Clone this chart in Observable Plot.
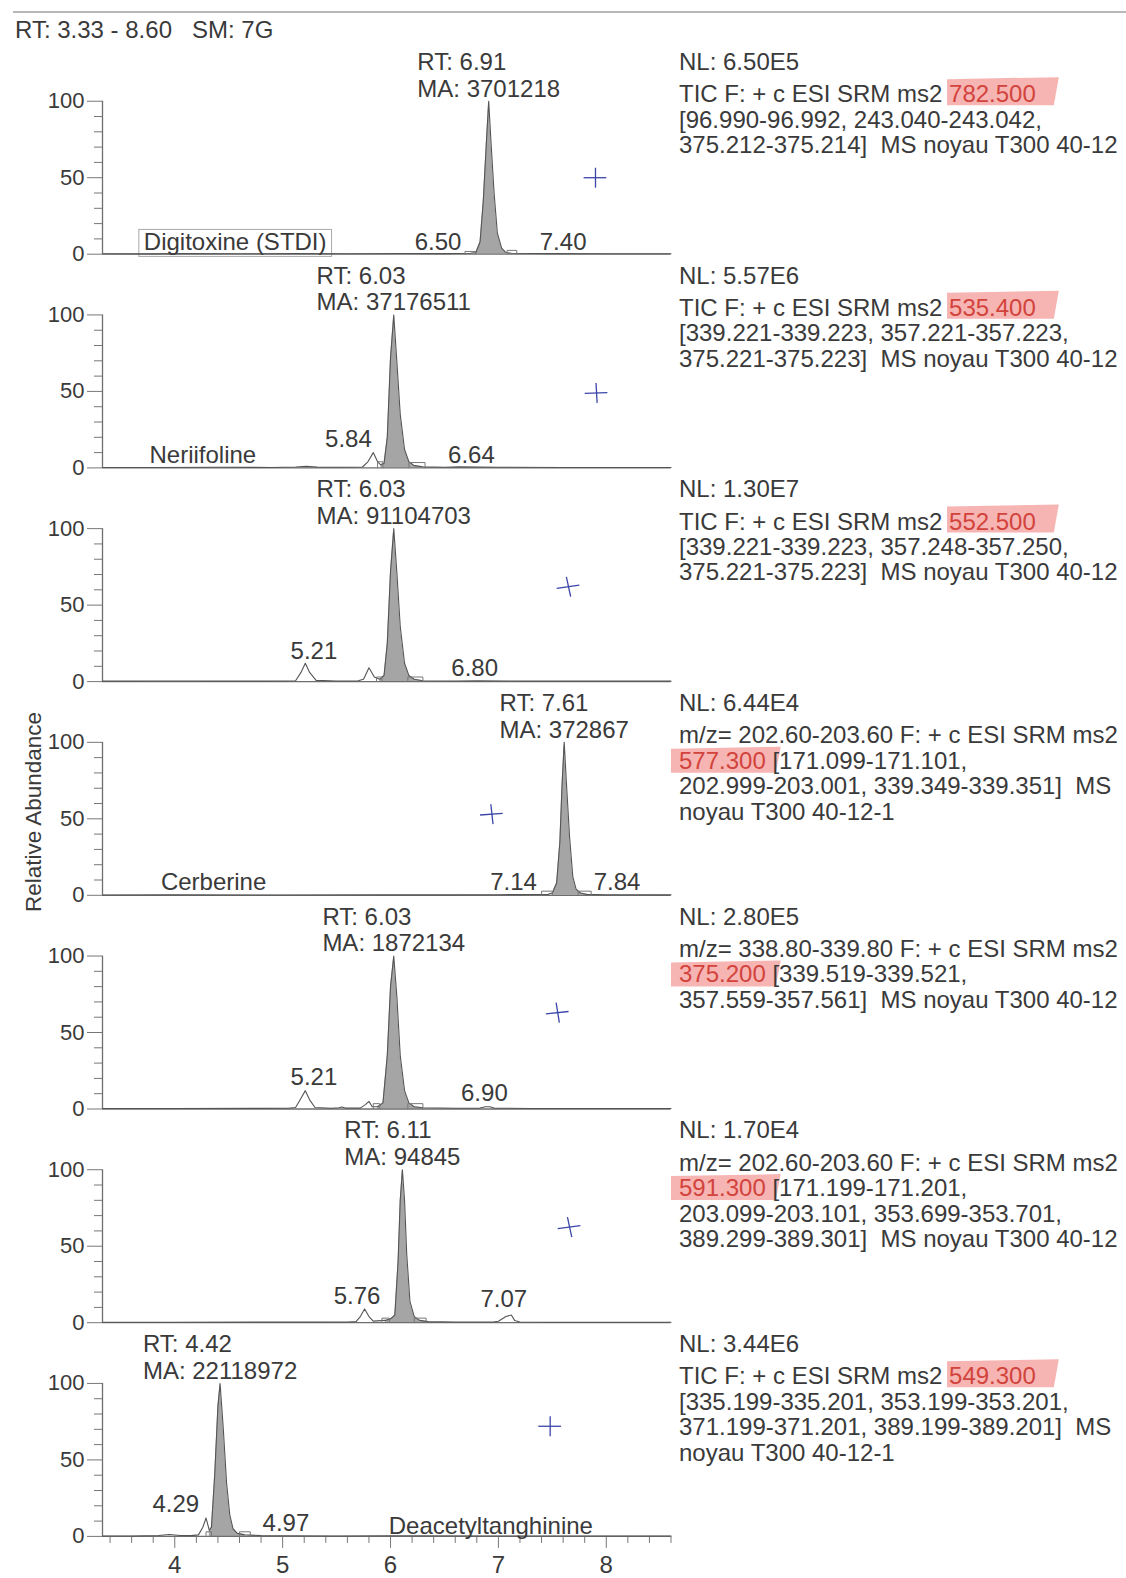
<!DOCTYPE html>
<html><head><meta charset="utf-8">
<script src="https://cdn.jsdelivr.net/npm/d3@7"></script>
<script src="https://cdn.jsdelivr.net/npm/@observablehq/plot@0.6"></script>
<style>
html,body{margin:0;padding:0;background:#fff;overflow:hidden;}
#page{position:relative;width:1126px;height:1578px;overflow:hidden;font-family:"Liberation Sans",Arial,Helvetica,sans-serif;color:#3a3a3a;background:#fff;}
#topline{position:absolute;left:13px;right:0;top:11px;height:2px;background:#b8b8b8;}
#header{position:absolute;left:15px;top:16px;font-size:24px;line-height:28px;white-space:pre;}
#chart{position:absolute;left:0;top:40px;}
</style></head><body>
<div id="page"><div id="topline"></div><div id="header"></div><div id="chart"></div></div>
<script>
// ---------------- data ----------------
const rtRange = [3.33, 8.60];
const smoothing = "7G";
const panelIds = [0, 1, 2, 3, 4, 5, 6];
const compoundNames = ["Digitoxine (STDI)", "Neriifoline", "", "Cerberine", "", "", "Deacetyltanghinine"];
const compoundLabelX = [4.56, 4.26, null, 4.36, null, null, 6.93];
const compoundLabelY = [7.5, 8.5, null, 8.5, null, null, 6.5];
const peakRT = [6.91, 6.03, 6.03, 7.61, 6.03, 6.11, 4.42];
const peakMA = [3701218, 37176511, 91104703, 372867, 1872134, 94845, 22118972];
const normLevel = ["6.50E5", "5.57E6", "1.30E7", "6.44E4", "2.80E5", "1.70E4", "3.44E6"];
const precursor = ["782.500", "535.400", "552.500", "577.300", "375.200", "591.300", "549.300"];
// scan filter text as visible (lines running past the page edge end where the page cuts them)
const scanFilter = [
  "TIC F: + c ESI SRM ms2 782.500\n[96.990-96.992, 243.040-243.042,\n375.212-375.214]  MS noyau T300 40-12",
  "TIC F: + c ESI SRM ms2 535.400\n[339.221-339.223, 357.221-357.223,\n375.221-375.223]  MS noyau T300 40-12",
  "TIC F: + c ESI SRM ms2 552.500\n[339.221-339.223, 357.248-357.250,\n375.221-375.223]  MS noyau T300 40-12",
  "m/z= 202.60-203.60 F: + c ESI SRM ms2\n577.300 [171.099-171.101,\n202.999-203.001, 339.349-339.351]  MS\nnoyau T300 40-12-1",
  "m/z= 338.80-339.80 F: + c ESI SRM ms2\n375.200 [339.519-339.521,\n357.559-357.561]  MS noyau T300 40-12",
  "m/z= 202.60-203.60 F: + c ESI SRM ms2\n591.300 [171.199-171.201,\n203.099-203.101, 353.699-353.701,\n389.299-389.301]  MS noyau T300 40-12",
  "TIC F: + c ESI SRM ms2 549.300\n[335.199-335.201, 353.199-353.201,\n371.199-371.201, 389.199-389.201]  MS\nnoyau T300 40-12-1"
];

// chromatogram traces [retention time (min), relative abundance (%)]
const trace1 = [[3.33,0.3],[3.7,0.2],[4.1,0.4],[4.6,0.3],[5.1,0.4],[5.6,0.3],[6.1,0.5],[6.5,0.4],[6.74,0.6],[6.79,1],[6.83,8],[6.86,35],[6.89,75],[6.91,100],[6.93,75],[6.96,40],[6.99,14],[7.03,4],[7.07,1],[7.12,0.6],[7.5,0.4],[8.0,0.3],[8.6,0.3]];
const trace2 = [[3.33,0.3],[3.8,0.3],[4.4,0.4],[4.9,0.3],[5.12,0.6],[5.22,1],[5.32,0.5],[5.6,0.4],[5.74,0.6],[5.79,4],[5.84,10],[5.88,4],[5.91,2],[5.94,3],[5.97,20],[6.00,72],[6.03,100],[6.06,68],[6.09,35],[6.13,12],[6.17,4],[6.22,1.5],[6.30,0.7],[6.5,0.4],[6.64,0.7],[7.0,0.4],[7.6,0.3],[8.6,0.3]];
const trace3 = [[3.33,0.3],[4.0,0.4],[4.6,0.3],[5.0,0.4],[5.12,0.6],[5.17,6],[5.21,12],[5.25,6],[5.31,0.8],[5.5,0.4],[5.7,0.5],[5.75,1.5],[5.80,9],[5.85,3],[5.90,1.5],[5.94,4],[5.97,25],[6.00,72],[6.03,100],[6.06,70],[6.09,36],[6.13,12],[6.17,4],[6.22,1.5],[6.30,0.6],[6.6,0.4],[6.8,0.6],[7.3,0.3],[8.6,0.3]];
const trace4 = [[3.33,0.2],[4.0,0.3],[5.0,0.2],[6.0,0.3],[6.5,0.3],[7.0,0.4],[7.3,0.5],[7.46,0.6],[7.50,1.5],[7.54,8],[7.57,35],[7.59,72],[7.61,100],[7.63,74],[7.66,38],[7.69,12],[7.72,4],[7.76,1.5],[7.82,0.6],[8.0,0.4],[8.6,0.3]];
const trace5 = [[3.33,0.3],[4.0,0.3],[4.8,0.4],[5.05,0.5],[5.12,1],[5.17,7],[5.21,12],[5.25,6],[5.30,1],[5.45,0.5],[5.52,0.8],[5.55,1.3],[5.58,0.6],[5.72,0.6],[5.77,3],[5.80,5],[5.83,1.5],[5.88,1.5],[5.93,4],[5.97,35],[6.00,80],[6.03,100],[6.06,72],[6.09,35],[6.13,12],[6.17,4],[6.22,1.5],[6.30,0.8],[6.6,0.5],[6.83,0.6],[6.88,1.5],[6.92,1.5],[6.96,0.6],[7.3,0.3],[8.6,0.3]];
const trace6 = [[3.33,0.3],[4.0,0.3],[4.8,0.4],[5.3,0.4],[5.6,0.5],[5.68,0.7],[5.72,4],[5.76,9],[5.80,4],[5.84,1],[5.95,1.5],[6.00,2.5],[6.04,5],[6.07,40],[6.09,80],[6.11,100],[6.13,80],[6.15,45],[6.18,14],[6.22,4],[6.27,1.5],[6.35,0.7],[6.6,0.5],[6.95,0.5],[7.0,1],[7.07,4],[7.12,5],[7.15,1.5],[7.2,0.5],[7.5,0.3],[8.6,0.3]];
const trace7 = [[3.33,0.3],[3.6,0.3],[3.85,0.6],[3.95,1.2],[4.05,0.6],[4.15,0.5],[4.22,1],[4.26,6],[4.29,12],[4.32,4],[4.34,6],[4.37,40],[4.40,85],[4.42,100],[4.45,70],[4.48,35],[4.51,14],[4.54,5],[4.58,2],[4.65,1],[4.8,0.5],[5.0,0.4],[5.5,0.3],[6.0,0.4],[7.0,0.3],[8.6,0.3]];
const traces = [trace1, trace2, trace3, trace4, trace5, trace6, trace7];

// integrated (filled) peak range per panel
const fillStart = [6.79, 5.91, 5.90, 7.50, 5.88, 5.95, 4.32];
const fillEnd   = [7.07, 6.30, 6.30, 7.82, 6.30, 6.35, 4.65];

// small labelled peaks: panel, label, x, y
const peakLabels = [
  [0,"6.50",6.44,7.5],[0,"7.40",7.60,7.5],
  [1,"5.84",5.61,19],[1,"6.64",6.75,8.5],
  [2,"5.21",5.29,19.5],[2,"6.80",6.78,8.5],
  [3,"7.14",7.14,8.5],[3,"7.84",8.10,8.5],
  [4,"5.21",5.29,20.5],[4,"6.90",6.87,10],
  [5,"5.76",5.69,17.5],[5,"7.07",7.05,15.5],
  [6,"4.29",4.01,21],[6,"4.97",5.03,8.5]
];
// integration baseline markers: panel, start, end, height
const integMarks = [
  [0,6.69,6.79,1.8],[0,7.08,7.17,2.5],
  [1,5.88,5.93,4],[1,6.17,6.32,3.5],
  [2,5.87,5.92,3],[2,6.16,6.30,3],
  [3,7.40,7.50,2.7],[3,7.74,7.86,2.7],
  [4,5.84,5.90,3.5],[4,6.16,6.30,3.5],
  [5,5.92,5.99,3],[5,6.22,6.33,3],
  [6,4.29,4.34,3],[6,4.60,4.70,3]
];
// hand-drawn blue crosses: panel, x, y, tilt
const penCrosses = [[0,7.90,50,0],[1,7.91,49,0.5],[2,7.65,62,2],[3,6.94,53,1],[4,7.55,63,1.5],[5,7.66,62.5,2],[6,7.48,72,0]];

const xTicksMajor = [4, 5, 6, 7, 8];
const xTicksMinor = [3.4,3.6,3.8,4.2,4.4,4.6,4.8,5.2,5.4,5.6,5.8,6.2,6.4,6.6,6.8,7.2,7.4,7.6,7.8,8.2,8.4,8.6];
const yTicksMajor = [0, 50, 100];
const yTicksMinor = [10, 20, 30, 40, 60, 70, 80, 90];

// ---------------- build ----------------
const font = "'Liberation Sans', Arial, Helvetica, sans-serif";
const ink = "#3a3a3a";
document.getElementById("header").textContent =
  `RT: ${rtRange[0].toFixed(2)} - ${rtRange[1].toFixed(2)}   SM: ${smoothing}`;

const traceRows = traces.flatMap((t, p) => t.map(([x, y]) => ({panel: p, x, y})));
const fillRows = traceRows.filter(d => d.x >= fillStart[d.panel] - 1e-9 && d.x <= fillEnd[d.panel] + 1e-9);
const integRows = integMarks.flatMap(([p, a, b, h], j) => [
  {id: j, panel: p, x: a, y: 0}, {id: j, panel: p, x: a, y: h},
  {id: j, panel: p, x: b, y: h}, {id: j, panel: p, x: b, y: 0}]);
const crossRows = penCrosses.flatMap(([p, x, y, t]) => [
  {panel: p, x1: x - 0.11, x2: x + 0.10, y1: y - t * 0.5, y2: y + t * 0.5},
  {panel: p, x1: x - 0.01 * t, x2: x + 0.01 * t, y1: y + 6.5, y2: y - 6.5}]);
const labelRows = peakLabels.map(([p, text, x, y]) => ({panel: p, text, x, y}));
const compoundRows = panelIds.filter(i => compoundNames[i]).map(i => ({panel: i, text: compoundNames[i], x: compoundLabelX[i], y: compoundLabelY[i]}));

const ctx = document.createElement("canvas").getContext("2d");
ctx.font = "24px 'Liberation Sans', Arial, sans-serif";
const rtText = i => "RT: " + peakRT[i].toFixed(2);
const maText = i => "MA: " + peakMA[i];

const panelH = 213.7, mBottom = 42;
const height = Math.round(7 * panelH + mBottom);

const rtMaMarks = panelIds.flatMap(i => {
  const w = ctx.measureText(maText(i)).width;
  const common = {x: () => peakRT[i], fy: d => d, textAnchor: "start", dx: -w / 2, fontSize: 24, fill: ink, lineAnchor: "middle"};
  return [
    Plot.text([i], {...common, y: () => 125.5, text: rtText}),
    Plot.text([i], {...common, y: () => 108, text: maText})
  ];
});

const chart = Plot.plot({
  width: 1126,
  height,
  marginLeft: 102,
  marginRight: 455.5,
  marginTop: 0,
  marginBottom: height - 7 * panelH,
  style: {fontFamily: font, fontSize: "24px", color: ink, background: "white"},
  x: {domain: rtRange, axis: null},
  y: {domain: [0, 139.7], axis: null},
  fy: {domain: panelIds, padding: 0, round: false, axis: null, label: null},
  marks: [
    Plot.axisY({ticks: yTicksMinor, tickSize: 8, tickFormat: () => "", stroke: "#777", label: null}),
    Plot.axisY({ticks: yTicksMajor, tickSize: 15, tickPadding: 3, fontSize: 22, fill: ink, stroke: "#777", label: null}),
    Plot.axisX({ticks: xTicksMinor, tickSize: 7, tickFormat: () => "", stroke: "#777", label: null}),
    Plot.axisX({ticks: xTicksMajor, tickSize: 12, tickPadding: 8, tickFormat: "d", fontSize: 24, fill: ink, stroke: "#777", label: null}),
    Plot.areaY(fillRows, {x: "x", y: "y", fy: "panel", fill: "#a5a5a5"}),
    Plot.ruleY([0], {stroke: "#6e6e6e", strokeWidth: 1.3}),
    Plot.ruleX([rtRange[0]], {y1: 0, y2: 100, stroke: "#6e6e6e", strokeWidth: 1.3}),
    Plot.line(traceRows, {x: "x", y: "y", fy: "panel", stroke: "#555", strokeWidth: 1.1}),
    Plot.line(integRows, {x: "x", y: "y", z: "id", fy: "panel", stroke: "#777", strokeWidth: 1}),
    Plot.link(crossRows, {x1: "x1", y1: "y1", x2: "x2", y2: "y2", fy: "panel", stroke: "#3b45a8", strokeWidth: 1.3}),
    Plot.text(labelRows, {x: "x", y: "y", fy: "panel", text: "text", fontSize: 24, fill: ink}),
    Plot.text(compoundRows, {x: "x", y: "y", fy: "panel", text: "text", fontSize: 24, fill: ink}),
    ...rtMaMarks,
    Plot.text(panelIds, {fy: d => d, y: () => 125.5, frameAnchor: "right", textAnchor: "start", dx: 8,
      text: i => "NL: " + normLevel[i], fontSize: 24, fill: ink, lineAnchor: "middle"}),
    Plot.text(panelIds, {fy: d => d, y: () => 105, frameAnchor: "right", textAnchor: "start", dx: 8, dy: -9.5,
      text: i => scanFilter[i], fontSize: 24, fill: ink, lineAnchor: "top", lineHeight: 1.06})
  ]
});
document.getElementById("chart").append(chart);

// ---------------- highlight precursor masses, box standard label ----------------
const ns = "http://www.w3.org/2000/svg";
const svgBox = chart.getBoundingClientRect();
const bg = document.createElementNS(ns, "g");
chart.insertBefore(bg, chart.firstChild ? chart.firstChild.nextSibling : null);
chart.querySelectorAll("tspan").forEach(ts => {
  if (ts.children.length) return;
  const s = ts.textContent;
  const tok = precursor.find(t => s.includes(t));
  if (!tok) return;
  const i = s.indexOf(tok);
  ts.textContent = "";
  ts.append(document.createTextNode(s.slice(0, i)));
  const red = document.createElementNS(ns, "tspan");
  red.setAttribute("fill", "#d2433c");
  red.textContent = tok;
  ts.append(red);
  ts.append(document.createTextNode(s.slice(i + tok.length)));
  const r = red.getBoundingClientRect();
  const lead = i === 0;
  const x0 = r.left - svgBox.left - (lead ? 8 : 2);
  const x1 = r.right - svgBox.left + (lead ? 10 : 18);
  const top = r.top - svgBox.top + (lead ? 1 : -2);
  const bot = r.bottom - svgBox.top - (lead ? 1 : 2);
  const path = document.createElementNS(ns, "path");
  path.setAttribute("d", `M${x0},${top + 1}L${x1 + 5},${top - 1}L${x1},${bot}L${x0},${bot}Z`);
  path.setAttribute("fill", "#f4a3a0");
  path.setAttribute("fill-opacity", "0.8");
  bg.append(path);
});
chart.querySelectorAll("text").forEach(t => {
  if (t.textContent === compoundNames[0]) {
    const r = t.getBoundingClientRect();
    const rect = document.createElementNS(ns, "rect");
    rect.setAttribute("x", r.left - svgBox.left - 5);
    rect.setAttribute("y", r.top - svgBox.top + 1);
    rect.setAttribute("width", r.width + 10);
    rect.setAttribute("height", r.height);
    rect.setAttribute("fill", "none");
    rect.setAttribute("stroke", "#aaa");
    rect.setAttribute("stroke-width", 1);
    bg.append(rect);
  }
});
const yl = document.createElementNS(ns, "text");
yl.setAttribute("transform", "translate(33,772) rotate(-90)");
yl.setAttribute("text-anchor", "middle");
yl.setAttribute("dy", "0.35em");
yl.setAttribute("font-size", "22.5");
yl.setAttribute("fill", ink);
yl.textContent = "Relative Abundance";
chart.append(yl);
</script></body></html>
